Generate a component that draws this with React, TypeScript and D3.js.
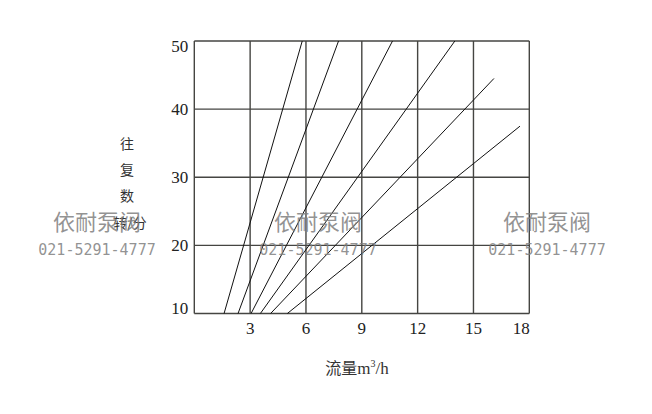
import React, { useEffect, useRef } from 'react';
import * as d3 from 'd3';

const width = 652;
const height = 414;

// flow (m3/h) vs strokes per minute, one straight line per pump size
const series: [number, number][][] = [
  [[1.6, 10], [5.8, 50]],
  [[2.35, 10], [7.75, 50]],
  [[3.05, 10], [10.65, 50]],
  [[3.55, 10], [14.0, 50]],
  [[4.1, 10], [16.1, 44.5]],
  [[5.0, 10], [17.5, 37.5]],
];

const xTicks = [3, 6, 9, 12, 15, 18];
const xGrid = [0, 3, 6, 9, 12, 15, 18];
const yTicks = [10, 20, 30, 40, 50];
const yLabelChars = ['往', '复', '数'];

const watermarks = [
  { x: 97, name: '依耐泵阀', phone: '021-5291-4777' },
  { x: 318, name: '依耐泵阀', phone: '021-5291-4777' },
  { x: 547, name: '依耐泵阀', phone: '021-5291-4777' },
];

const App: React.FC = () => {
  const ref = useRef<HTMLDivElement>(null);

  useEffect(() => {
    if (!ref.current) return;
    const container = ref.current;

    const svg = d3
      .select(container)
      .append('svg')
      .attr('width', width)
      .attr('height', height)
      .style('display', 'block')
      .style('background', '#fff');

    const x = d3.scaleLinear().domain([0, 18]).range([194.3, 529.3]);
    const y = d3.scaleLinear().domain([10, 50]).range([313.5, 41]);

    const serif = '"Liberation Serif", "DejaVu Serif", serif';
    const cjk = '"Noto Sans CJK SC", sans-serif';
    const gridColor = '#454542';

    // grid
    svg
      .append('g')
      .selectAll('line')
      .data(xGrid)
      .enter()
      .append('line')
      .attr('x1', d => x(d))
      .attr('x2', d => x(d))
      .attr('y1', y(50))
      .attr('y2', y(10))
      .attr('stroke', gridColor)
      .attr('stroke-width', 1.4);

    svg
      .append('g')
      .selectAll('line')
      .data(yTicks)
      .enter()
      .append('line')
      .attr('x1', x(0))
      .attr('x2', x(18))
      .attr('y1', d => y(d))
      .attr('y2', d => y(d))
      .attr('stroke', gridColor)
      .attr('stroke-width', 1.4);

    // y tick labels
    svg
      .append('g')
      .selectAll('text')
      .data(yTicks)
      .enter()
      .append('text')
      .attr('x', x(0) - 6)
      .attr('y', d => y(d) + (d === 50 ? 11 : d === 10 ? 0 : 6))
      .attr('text-anchor', 'end')
      .attr('font-family', serif)
      .attr('font-size', 17)
      .attr('fill', '#222')
      .text(d => d);

    // x tick labels
    svg
      .append('g')
      .selectAll('text')
      .data(xTicks)
      .enter()
      .append('text')
      .attr('x', d => x(d) - (d === 18 ? 8 : 0))
      .attr('y', 334)
      .attr('text-anchor', 'middle')
      .attr('font-family', serif)
      .attr('font-size', 17)
      .attr('fill', '#222')
      .text(d => d);

    // curves
    const line = d3
      .line<[number, number]>()
      .x(d => x(d[0]))
      .y(d => y(d[1]));

    svg
      .append('g')
      .selectAll('path')
      .data(series)
      .enter()
      .append('path')
      .attr('d', d => line(d))
      .attr('fill', 'none')
      .attr('stroke', '#111')
      .attr('stroke-width', 1);

    // axis titles
    const yTitle = svg
      .append('g')
      .attr('font-family', cjk)
      .attr('font-size', 14)
      .attr('fill', '#333')
      .attr('text-anchor', 'middle');
    yLabelChars.forEach((c, i) => {
      yTitle
        .append('text')
        .attr('x', 127)
        .attr('y', 149 + i * 26)
        .text(c);
    });
    yTitle.append('text').attr('x', 130).attr('y', 228).text('转/分');

    const xTitle = svg
      .append('text')
      .attr('x', 357)
      .attr('y', 374)
      .attr('text-anchor', 'middle')
      .attr('font-family', cjk)
      .attr('font-size', 16)
      .attr('fill', '#333');
    xTitle.append('tspan').text('流量');
    xTitle.append('tspan').attr('font-family', serif).attr('font-size', 17).text('m');
    xTitle
      .append('tspan')
      .attr('font-family', serif)
      .attr('font-size', 10)
      .attr('dy', -7)
      .text('3');
    xTitle
      .append('tspan')
      .attr('font-family', serif)
      .attr('font-size', 17)
      .attr('dy', 7)
      .text('/h');

    // watermarks
    const wm = svg.append('g').attr('fill', '#808080').attr('fill-opacity', 0.85);
    watermarks.forEach(w => {
      wm.append('text')
        .attr('x', w.x)
        .attr('y', 230)
        .attr('text-anchor', 'middle')
        .attr('font-family', cjk)
        .attr('font-size', 22)
        .text(w.name);
      wm.append('text')
        .attr('x', w.x)
        .attr('y', 255)
        .attr('text-anchor', 'middle')
        .attr('font-family', '"DejaVu Sans Mono", monospace')
        .attr('font-size', 15)
        .text(w.phone);
    });

    return () => {
      svg.remove();
    };
  }, []);

  return (
    <div
      ref={ref}
      style={{
        position: 'absolute',
        top: 0,
        left: 0,
        width: `${width}px`,
        height: `${height}px`,
      }}
    />
  );
};

export default App;
